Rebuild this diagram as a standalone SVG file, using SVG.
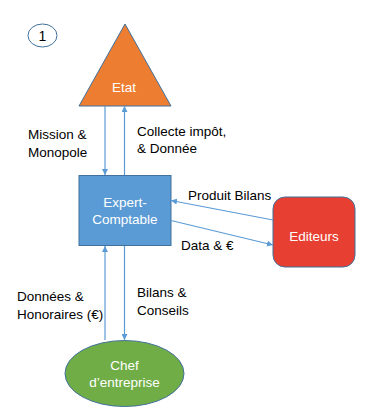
<svg xmlns="http://www.w3.org/2000/svg" width="371" height="420" viewBox="0 0 371 420">
<style>
.lbl{font-family:"Liberation Sans",Arial,sans-serif;font-size:13.5px;fill:#000}
.in{font-family:"Liberation Sans",Arial,sans-serif;font-size:13.5px;fill:#fff;text-anchor:middle}
.ln{stroke:#5B9BD5;stroke-width:1.2;fill:none;marker-end:url(#ah)}
</style>
<defs>
<marker id="ah" viewBox="0 0 10 10" refX="10" refY="5" markerWidth="6" markerHeight="6" orient="auto" markerUnits="userSpaceOnUse">
<path d="M0,0 L10,5 L0,10 z" fill="#5B9BD5"/>
</marker>
</defs>
<rect width="371" height="420" fill="#fff"/>
<g id="badge">
<ellipse cx="42.5" cy="35.5" rx="14.5" ry="11.5" fill="#fff" stroke="#41719C" stroke-width="1"/>
<text x="42.5" y="40.5" font-family="Liberation Sans,sans-serif" font-size="14" text-anchor="middle" fill="#000">1</text>
</g>
<g id="etat">
<polygon points="125,24 171,106 79,106" fill="#ED7D31" stroke="#41719C" stroke-width="1"/>
<text class="in" x="124" y="92">Etat</text>
</g>
<g id="expert">
<rect x="79" y="175.5" width="92" height="70" fill="#5B9BD5" stroke="#41719C" stroke-width="1"/>
<text class="in" x="125" y="207">Expert-</text>
<text class="in" x="125" y="224">Comptable</text>
</g>
<g id="editeurs">
<rect x="273" y="197" width="82" height="70" rx="12" fill="#E83F33" stroke="#41719C" stroke-width="1"/>
<text class="in" x="314" y="241">Editeurs</text>
</g>
<g id="chef">
<ellipse cx="124.5" cy="373.5" rx="59.5" ry="33" fill="#70AD47" stroke="#41719C" stroke-width="1"/>
<text class="in" x="124.5" y="370">Chef</text>
<text class="in" x="124.5" y="387">d’entreprise</text>
</g>
<g id="connectors">
<line class="ln" x1="105" y1="106" x2="105" y2="175"/>
<line class="ln" x1="124.5" y1="175" x2="124.5" y2="106"/>
<line class="ln" x1="273" y1="220" x2="171" y2="200.5"/>
<line class="ln" x1="171" y1="220.5" x2="273" y2="245"/>
<line class="ln" x1="105" y1="340" x2="105" y2="246"/>
<line class="ln" x1="124.5" y1="246" x2="124.5" y2="340"/>
</g>
<g id="labels">
<text class="lbl" x="28" y="139">Mission &amp;</text>
<text class="lbl" x="28" y="157">Monopole</text>
<text class="lbl" x="137" y="136">Collecte impôt,</text>
<text class="lbl" x="137" y="153">&amp; Donnée</text>
<text class="lbl" x="188" y="200">Produit Bilans</text>
<text class="lbl" x="181" y="250">Data &amp; €</text>
<text class="lbl" x="17" y="301">Données &amp;</text>
<text class="lbl" x="17" y="319">Honoraires (€)</text>
<text class="lbl" x="137" y="297">Bilans &amp;</text>
<text class="lbl" x="137" y="315">Conseils</text>
</g>
</svg>
